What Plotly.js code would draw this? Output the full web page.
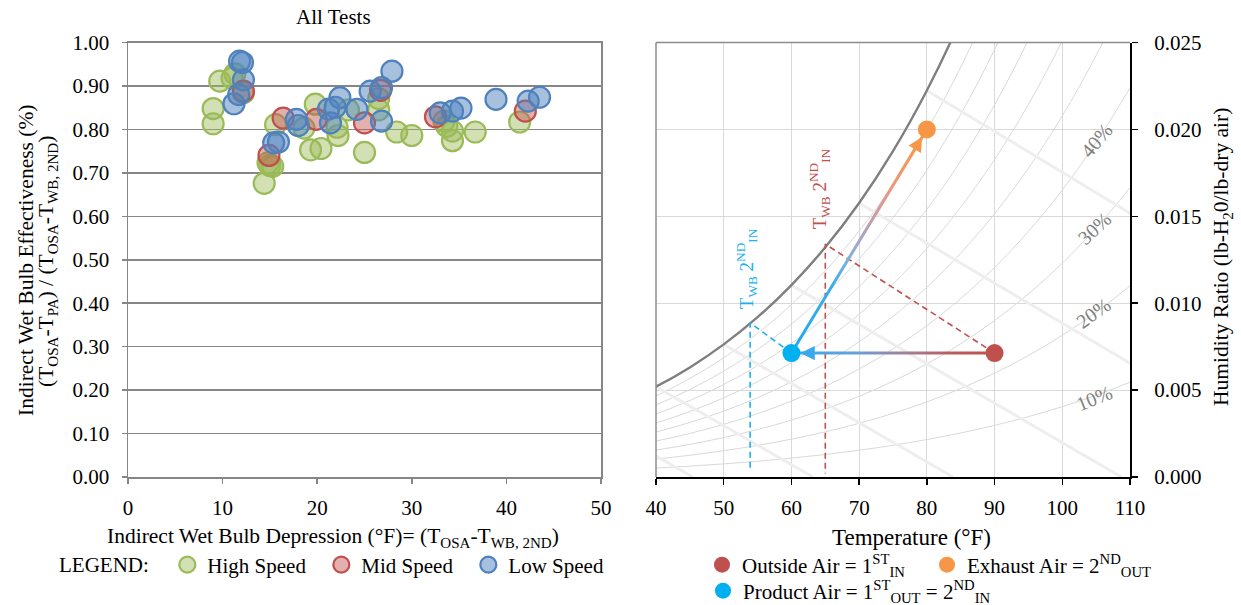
<!DOCTYPE html>
<html>
<head>
<meta charset="utf-8">
<script src="https://cdn.plot.ly/plotly-3.0.1.min.js"></script>
<style>html,body{margin:0;padding:0;background:#fff;overflow:hidden}#chart{width:1241px;height:605px}</style>
</head>
<body>
<div id="chart"></div>
<script>
// ---------- Left chart data: Indirect wet bulb effectiveness ----------
const highX = [9.7, 9.0, 9.0, 11.3, 11.0, 12.2, 15.6, 15.0, 15.3, 14.8, 14.4, 18.6, 19.8, 19.3, 20.4, 22.2, 22.1, 23.3, 25.0, 26.5, 26.5, 28.4, 30.0, 33.4, 33.7, 34.3, 34.3, 36.7, 41.4];
const highY = [0.911, 0.848, 0.813, 0.928, 0.918, 0.884, 0.811, 0.717, 0.715, 0.723, 0.676, 0.803, 0.858, 0.753, 0.756, 0.786, 0.805, 0.845, 0.747, 0.871, 0.845, 0.794, 0.786, 0.819, 0.807, 0.796, 0.774, 0.794, 0.817];
const midX = [12.2, 16.4, 14.9, 19.9, 25.0, 26.7, 32.5, 42.0];
const midY = [0.888, 0.826, 0.740, 0.823, 0.815, 0.890, 0.829, 0.842];
const lowX = [11.8, 12.1, 12.2, 11.7, 11.2, 15.4, 15.9, 17.8, 18.0, 21.2, 22.4, 21.9, 21.4, 24.2, 25.6, 26.8, 26.8, 27.9, 33.0, 34.3, 35.2, 38.9, 42.3, 43.5];
const lowY = [0.957, 0.954, 0.914, 0.880, 0.859, 0.769, 0.771, 0.823, 0.809, 0.847, 0.873, 0.851, 0.815, 0.846, 0.888, 0.896, 0.819, 0.934, 0.838, 0.842, 0.849, 0.869, 0.865, 0.874];
const seriesNames = ['High Speed', 'Mid Speed', 'Low Speed'];
const leftXTicks = [0, 10, 20, 30, 40, 50];
const leftYTicks = [0, 0.1, 0.2, 0.3, 0.4, 0.5, 0.6, 0.7, 0.8, 0.9, 1.0];

// ---------- Right chart data: psychrometric process ----------
// saturation vapour pressure table (psia) vs dry bulb temperature (F)
const psyT   = [30, 35, 40, 45, 50, 55, 60, 65, 70, 75, 80, 85, 90, 95, 100, 105, 110];
const psyPws = [0.0808, 0.0999, 0.1217, 0.1475, 0.1781, 0.2141, 0.2563, 0.3057, 0.3632, 0.4300, 0.5073, 0.5964, 0.6988, 0.8162, 0.9503, 1.1030, 1.2763];
const atmP = 14.696;
const rhLevels = [0.1, 0.2, 0.3, 0.4, 0.5, 0.6, 0.7, 0.8, 0.9];
const rhLabels = ['10%', '20%', '30%', '40%'];
const wetBulbTemps = [30, 40, 50, 60, 70, 80];
const rightXTicks = [40, 50, 60, 70, 80, 90, 100, 110];
const rightYTicks = [0, 0.005, 0.010, 0.015, 0.020, 0.025];
// state points
const stateNames = ['Outside Air = 1<sup>ST</sup><sub>IN</sub>', 'Exhaust Air = 2<sup>ND</sup><sub>OUT</sub>', 'Product Air = 1<sup>ST</sup><sub>OUT</sub> = 2<sup>ND</sup><sub>IN</sub>'];
const stateT = [90, 80, 60];
const stateW = [0.00713, 0.0200, 0.00713];
// wet bulb reference points on the saturation curve
const osaWbT = 65.0, osaWbW = 0.0134, osaWbFoot = 0.0002;
const paWbT = 53.9, paWbW = 0.00887, paWbFoot = 0.0004;

// ---------- helpers ----------
const FONT = 'Liberation Serif, Times New Roman, serif';
const wsat = (pws, phi) => 0.622 * phi * pws / (atmP - phi * pws);
const pxPerF = (1130 - 656) / 70, pxPerW = (477 - 42.5) / 0.025;
function band(x0, y0, x1, y1, halfPx, gtype, cs, start, stop) {
  const dxp = (x1 - x0) * pxPerF, dyp = (y1 - y0) * pxPerW, L = Math.hypot(dxp, dyp);
  const ox = (-dyp / L * halfPx) / pxPerF, oy = (dxp / L * halfPx) / pxPerW;
  return {x: [x0 + ox, x1 + ox, x1 - ox, x0 - ox, x0 + ox], y: [y0 + oy, y1 + oy, y1 - oy, y0 - oy, y0 + oy],
    xaxis: 'x2', yaxis: 'y2', mode: 'lines', line: {width: 0}, fill: 'toself',
    fillgradient: {type: gtype, colorscale: cs, start: start, stop: stop}, showlegend: false, hoverinfo: 'skip'};
}

const traces = [];
// left chart scatter
const sc = [
  [highX, highY, 'rgba(155,187,89,0.45)', '#9bbb59', 109],
  [midX, midY, 'rgba(192,80,77,0.45)', '#c0504d', 102],
  [lowX, lowY, 'rgba(79,129,189,0.5)', '#4f81bd', 110]
];
sc.forEach((s, i) => traces.push({x: s[0], y: s[1], name: seriesNames[i], type: 'scatter', mode: 'markers',
  xaxis: 'x', yaxis: 'y', legend: 'legend', legendwidth: s[4],
  marker: {size: 21, color: s[2], line: {color: s[3], width: 2.2}}}));

// RH curves
rhLevels.forEach(phi => traces.push({x: psyT, y: psyPws.map(p => wsat(p, phi)), xaxis: 'x2', yaxis: 'y2',
  mode: 'lines', line: {color: '#d9d9d9', width: 1, shape: 'spline'}, showlegend: false, hoverinfo: 'skip'}));
// wet bulb lines
wetBulbTemps.forEach(twb => {
  const ws = wsat(psyPws[psyT.indexOf(twb)], 1);
  const wAt = T => ((1093 - 0.556 * twb) * ws - 0.24 * (T - twb)) / (1093 + 0.444 * T - twb);
  let tEnd = twb + (1093 - 0.556 * twb) * ws / 0.24;
  if (tEnd > 110) tEnd = 110;
  traces.push({x: [twb, tEnd], y: [ws, Math.max(0, wAt(tEnd))], xaxis: 'x2', yaxis: 'y2', mode: 'lines',
    line: {color: '#eeeeee', width: 3}, showlegend: false, hoverinfo: 'skip'});
});
// saturation curve
traces.push({x: psyT, y: psyPws.map(p => wsat(p, 1)), xaxis: 'x2', yaxis: 'y2', mode: 'lines',
  line: {color: '#7f7f7f', width: 2.4, shape: 'spline'}, showlegend: false, hoverinfo: 'skip'});
// dashed wet bulb constructions
traces.push({x: [stateT[0], osaWbT, osaWbT], y: [stateW[0], osaWbW, osaWbFoot], xaxis: 'x2', yaxis: 'y2', mode: 'lines',
  line: {color: '#c0504d', width: 1.6, dash: '6px,4px'}, showlegend: false, hoverinfo: 'skip'});
traces.push({x: [stateT[2], paWbT, paWbT], y: [stateW[2], paWbW, paWbFoot], xaxis: 'x2', yaxis: 'y2', mode: 'lines',
  line: {color: '#1cb0ee', width: 1.6, dash: '6px,4px'}, showlegend: false, hoverinfo: 'skip'});
// gradient process arrows
traces.push(band(stateT[2], stateW[2], stateT[0], stateW[0], 1.5, 'horizontal',
  [[0, '#3aa8ec'], [0.3, '#62a2dc'], [0.55, '#a0849e'], [0.8, '#bc5a5e'], [1, '#c0504d']], stateT[2], stateT[0]));
traces.push(band(stateT[2], stateW[2], stateT[1], stateW[1], 1.5, 'vertical',
  [[0, '#1eaaee'], [0.3, '#3aaeea'], [0.42, '#7fb0dc'], [0.5, '#a6a6c6'], [0.62, '#cc9aa6'], [0.75, '#ec9878'], [0.88, '#f59650'], [1, '#f79646']], stateW[2], stateW[1]));
// state points
const stateColors = ['#c0504d', '#f79646', '#00b0f0'];
const stateLegend = ['legend2', 'legend2', 'legend3'];
const stateLegendWidth = [180, 200, 260];
[0, 1, 2].forEach(i => traces.push({x: [stateT[i]], y: [stateW[i]], name: stateNames[i], xaxis: 'x2', yaxis: 'y2',
  mode: 'markers', marker: {size: 18, color: stateColors[i]}, legend: stateLegend[i], legendwidth: stateLegendWidth[i]}));

const ax = {family: FONT, size: 21.5, color: '#000'};
const tk = {family: FONT, size: 21, color: '#000'};
const C = {xanchor: 'center', yanchor: 'middle', showarrow: false};
const annotations = [
  Object.assign({text: 'All Tests', xref: 'paper', yref: 'paper', x: 333 / 1241, y: 1 - 17 / 605, font: {family: FONT, size: 21, color: '#000'}}, C),
  Object.assign({text: 'Indirect Wet Bulb Effectiveness (%)', xref: 'paper', yref: 'paper', x: 26 / 1241, y: 1 - 260 / 605, textangle: -90, font: ax}, C),
  Object.assign({text: '(T<sub>OSA</sub>-T<sub>PA</sub>) / (T<sub>OSA</sub>-T<sub>WB, 2ND</sub>)', xref: 'paper', yref: 'paper', x: 47 / 1241, y: 1 - 262 / 605, textangle: -90, font: ax}, C),
  Object.assign({text: 'Indirect Wet Bulb Depression (°F)= (T<sub>OSA</sub>-T<sub>WB, 2ND</sub>)', xref: 'paper', yref: 'paper', x: 333 / 1241, y: 1 - 537 / 605, font: ax}, C),
  Object.assign({text: 'Temperature (°F)', xref: 'paper', yref: 'paper', x: 911 / 1241, y: 1 - 537 / 605, font: {family: FONT, size: 23, color: '#000'}}, C),
  Object.assign({text: 'Humidity Ratio (lb-H<sub>2</sub>0/lb-dry air)', xref: 'paper', yref: 'paper', x: 1222 / 1241, y: 1 - 257 / 605, textangle: -90, font: ax}, C),
  Object.assign({text: 'T<sub>WB</sub> 2<sup>ND</sup><sub>IN</sub>', xref: 'x2', yref: 'y2', x: 64.2, y: 0.0166, textangle: -90, font: {family: FONT, size: 19, color: '#c0504d'}}, C),
  Object.assign({text: 'T<sub>WB</sub> 2<sup>ND</sup><sub>IN</sub>', xref: 'x2', yref: 'y2', x: 53.4, y: 0.0120, textangle: -90, font: {family: FONT, size: 19, color: '#1cb0ee'}}, C),
  // arrowheads
  {text: '', xref: 'x2', yref: 'y2', axref: 'x2', ayref: 'y2', x: stateT[2], y: stateW[2], ax: stateT[2] + 3, ay: stateW[2], showarrow: true, arrowhead: 2, arrowsize: 1.3, arrowwidth: 2.2, arrowcolor: '#3aa8ec', standoff: 9},
  {text: '', xref: 'x2', yref: 'y2', axref: 'x2', ayref: 'y2', x: stateT[1], y: stateW[1], ax: stateT[1] - 2, ay: stateW[1] - (stateW[1] - stateW[2]) / 10, showarrow: true, arrowhead: 2, arrowsize: 1.3, arrowwidth: 2.2, arrowcolor: '#f79646', standoff: 9}
];
const rhPos = [[104.8, 0.00455, -22], [104.6, 0.00945, -36], [104.8, 0.01433, -43], [105.1, 0.01939, -50]];
rhLabels.forEach((t, i) => annotations.push(Object.assign({text: t, xref: 'x2', yref: 'y2', x: rhPos[i][0], y: rhPos[i][1], textangle: rhPos[i][2],
  font: {family: FONT, size: 20, color: '#808080'}}, C)));

const yDom = [(605 - 477) / 605, (605 - 42.5) / 605];
const lf = {family: FONT, size: 21, color: '#000'};
const layout = {
  width: 1241, height: 605, margin: {l: 0, r: 0, t: 0, b: 0, autoexpand: false}, paper_bgcolor: '#fff', plot_bgcolor: '#fff',
  font: {family: FONT, size: 21, color: '#000'}, showlegend: true,
  xaxis: {domain: [128 / 1241, 601 / 1241], range: [0, 50], tickvals: leftXTicks, ticktext: leftXTicks.map(String), showgrid: false, zeroline: false,
    showline: true, linecolor: '#868686', linewidth: 1.5, mirror: true, ticks: 'outside', ticklen: 5, tickcolor: '#868686', tickwidth: 1.5, tickfont: tk, anchor: 'y', ticklabelstandoff: 6, automargin: false},
  yaxis: {domain: yDom, range: [0, 1], tickvals: leftYTicks, ticktext: leftYTicks.map(v => v.toFixed(2)), showgrid: true, gridcolor: '#868686', gridwidth: 1.5, zeroline: false,
    showline: true, linecolor: '#868686', linewidth: 1.5, mirror: true, ticks: 'outside', ticklen: 5, tickcolor: '#868686', tickwidth: 1.5, tickfont: tk, anchor: 'x', ticklabelstandoff: 8, automargin: false},
  xaxis2: {domain: [656 / 1241, 1130 / 1241], range: [40, 110], tickvals: rightXTicks, ticktext: rightXTicks.map(String), showgrid: true, gridcolor: '#d9d9d9', gridwidth: 1, zeroline: false,
    showline: true, linecolor: '#000', linewidth: 2, ticks: 'outside', ticklen: 6, tickcolor: '#000', tickwidth: 1.5, tickfont: tk, anchor: 'y2', ticklabelstandoff: 5, automargin: false},
  yaxis2: {domain: yDom, range: [0, 0.025], tickvals: rightYTicks, ticktext: rightYTicks.map(v => v.toFixed(3)), side: 'right', showgrid: true, gridcolor: '#d9d9d9', gridwidth: 1, zeroline: false,
    showline: true, linecolor: '#000', linewidth: 2, ticks: 'outside', ticklen: 6, tickcolor: '#000', tickwidth: 1.5, tickfont: tk, anchor: 'x2', ticklabelstandoff: 12, automargin: false},
  shapes: [
    {type: 'line', xref: 'x2 domain', yref: 'y2 domain', x0: 0, x1: 1, y0: 1, y1: 1, line: {color: '#8c8c8c', width: 1.5}},
    {type: 'line', xref: 'x2 domain', yref: 'y2 domain', x0: 0, x1: 0, y0: 0, y1: 1, line: {color: '#8c8c8c', width: 1.5}}
  ],
  legend: {orientation: 'h', x: 57 / 1241, xanchor: 'left', y: 1 - 565 / 605, yanchor: 'middle', font: lf,
    title: {text: 'LEGEND:\u00a0\u00a0', side: 'left', font: lf}, itemsizing: 'trace', bgcolor: 'rgba(0,0,0,0)'},
  legend2: {orientation: 'h', x: 702 / 1241, xanchor: 'left', y: 1 - 565 / 605, yanchor: 'middle', font: lf,
    itemsizing: 'trace', bgcolor: 'rgba(0,0,0,0)'},
  legend3: {orientation: 'h', x: 703 / 1241, xanchor: 'left', y: 1 - 591 / 605, yanchor: 'middle', font: lf,
    itemsizing: 'trace', bgcolor: 'rgba(0,0,0,0)'},
  annotations: annotations
};
Plotly.newPlot('chart', traces, layout, {staticPlot: true, displayModeBar: false});
</script>
</body>
</html>
